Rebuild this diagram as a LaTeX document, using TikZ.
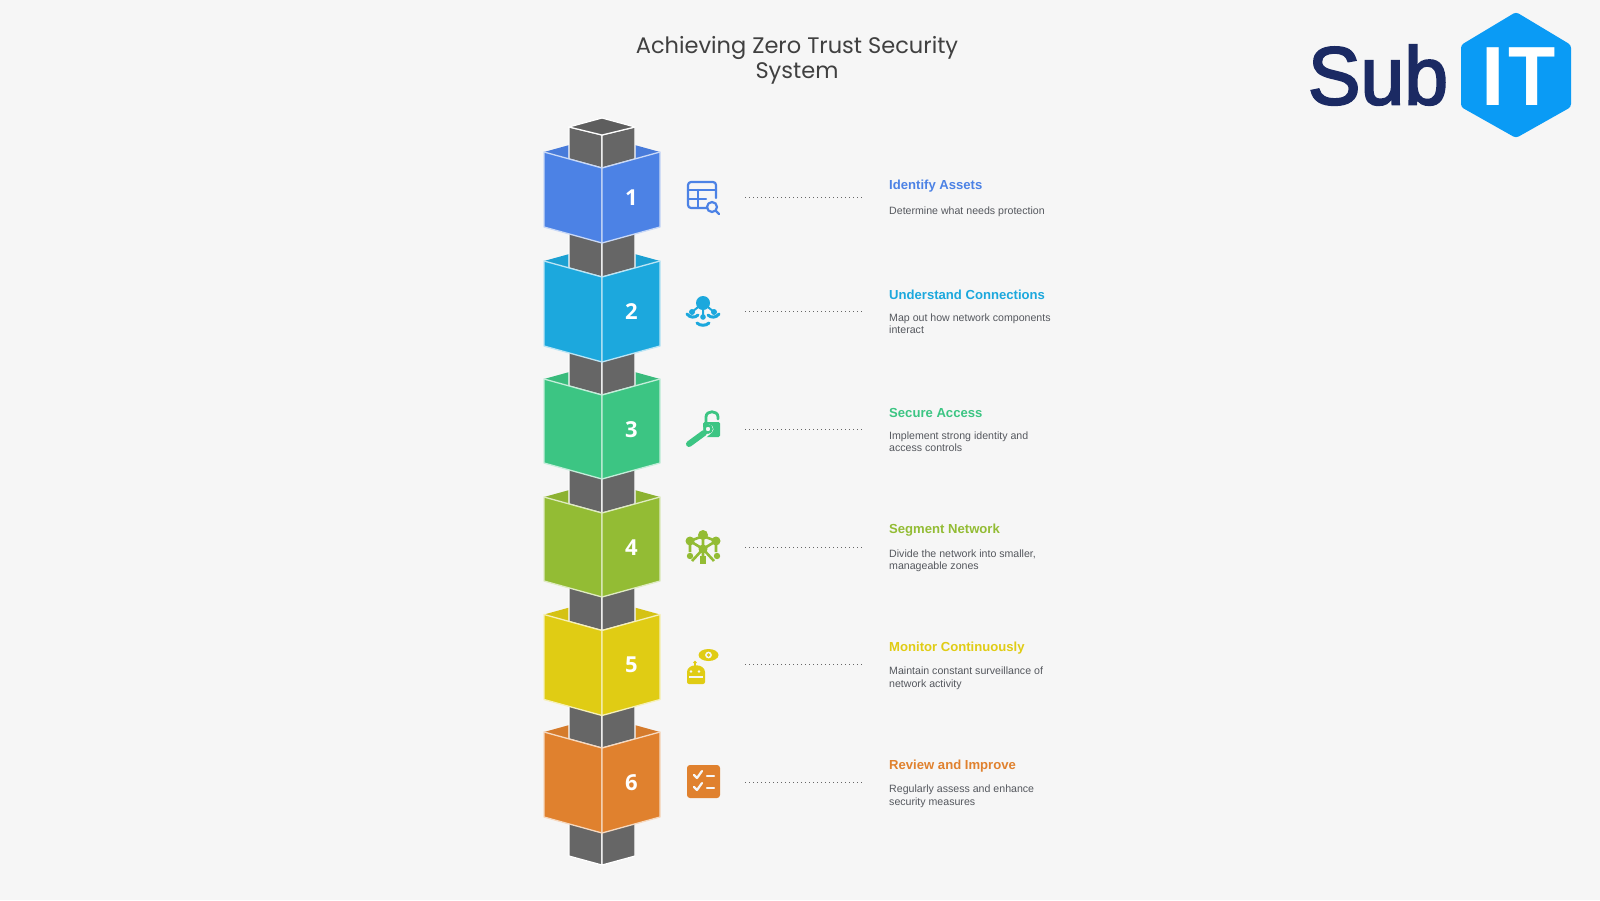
\documentclass[tikz,border=0pt]{standalone}
\usepackage{fontspec}
\usepackage{xcolor}
\setmainfont{Liberation Sans}
\newfontfamily\headfont{Poppins}
\newfontfamily\numfont{Open Sans}
\newfontfamily\logofont[FakeBold=2.6]{Liberation Sans}

\definecolor{pagebg}{HTML}{F6F6F6}
\definecolor{colgrey}{HTML}{666666}
\definecolor{capgrey}{HTML}{5E5E5E}
\definecolor{deskgrey}{HTML}{55585E}
\definecolor{stepa}{HTML}{4C82E5}
\definecolor{stepb}{HTML}{1CA8DD}
\definecolor{stepc}{HTML}{3CC583}
\definecolor{stepd}{HTML}{93BC34}
\definecolor{stepe}{HTML}{E0CC14}
\definecolor{stepf}{HTML}{E0812E}
\definecolor{logoblue}{HTML}{0A9BF5}
\definecolor{logonavy}{HTML}{1B2A63}

\begin{document}
\begin{tikzpicture}[
      x=1pt, y=-1pt,
      greyface/.style={fill=colgrey, draw=white, line width=1.2pt, line join=round},
      numlabel/.style={font=\numfont\bfseries\fontsize{22}{22}\selectfont, text=white},
      titlelabel/.style={font=\bfseries\fontsize{13.1}{16}\selectfont, anchor=west, inner sep=0pt},
      desclabel/.style={font=\fontsize{10.6}{12.5}\selectfont, text=deskgrey, anchor=north west, inner sep=0pt, align=left},
      dotline/.style={colgrey, line width=0.9pt, dash pattern=on 0.9pt off 3.1pt},
      iconline/.style={line width=2.2pt, line cap=round, line join=round}
    ]
    \useasboundingbox (0,0) rectangle (1600,900);
    \fill[pagebg] (0,0) rectangle (1600,900);

    % heading
    \node[font=\headfont\fontsize{22.5}{25}\selectfont, text=black!75, align=center] (heading) at (797,60)
      {Achieving Zero Trust Security\\System};

    % logo
    \node[font=\logofont\fontsize{82}{82}\selectfont, text=logonavy, inner sep=0pt] (sub) at (1378,75)
      {\scalebox{0.96}[1]{Sub}};
    \fill[logoblue, rounded corners=3pt] (1516,12) -- (1571,45) -- (1571,107) -- (1516,138) -- (1461,107) -- (1461,45) -- cycle;
    \node[font=\bfseries\fontsize{84}{84}\selectfont, text=white, inner sep=0pt] (logoit) at (1518.5,77)
      {I\kern3pt\scalebox{0.92}[1]{T}};

    % bottom end of the column
    \draw[greyface] (569,810) -- (569,856) -- (602,865) -- (602,810) -- cycle;
    \draw[greyface] (635,810) -- (635,856) -- (602,865) -- (602,810) -- cycle;

    % blocks, lowest first so each one lies over the column below it
    \foreach \n/\col/\t/\h/\s/\c in {6/stepf/748/85/65/65, 5/stepe/630.5/85/65/65, 4/stepd/513/84/65/65, 3/stepc/395/84/65/65, 2/stepb/277/85/65/65, 1/stepa/168/75/41/33} {
      \fill[\col!95!black] (544,\t-16) -- (602,\t-32) -- (660,\t-16) -- (602,\t) -- cycle;
      \draw[greyface] (569,\t-\s) -- (569,\t-9) -- (602,\t) -- (602,\t-\c) -- cycle;
      \draw[greyface] (635,\t-\s) -- (635,\t-9) -- (602,\t) -- (602,\t-\c) -- cycle;
      \draw[fill=\col, draw=\col!30!white, line width=1.3pt, line join=round]
        (544,\t-16) -- (602,\t) -- (602,\t+\h) -- (544,\t+\h-16) -- cycle;
      \draw[fill=\col, draw=\col!30!white, line width=1.3pt, line join=round]
        (660,\t-16) -- (602,\t) -- (602,\t+\h) -- (660,\t+\h-16) -- cycle;
    }

    % top of the column
    \draw[fill=capgrey, draw=white, line width=1.2pt, line join=round] (602,118) -- (635,127) -- (602,135) -- (569,127) -- cycle;

    % numbers, dotted lines and texts
    \foreach \n/\col/\y/\ttl/\dsc/\dy/\gap in {
        1/stepa/197/Identify Assets/Determine what needs protection/186/20.5,
        2/stepb/311/Understand Connections/{Map out how network components\\interact}/294.5/18.7,
        3/stepc/429/Secure Access/{Implement strong identity and\\access controls}/412.5/18.7,
        4/stepd/547/Segment Network/{Divide the network into smaller,\\manageable zones}/530.5/18.7,
        5/stepe/664.5/Monitor Continuously/{Maintain constant surveillance of\\network activity}/648/18.7,
        6/stepf/782/Review and Improve/{Regularly assess and enhance\\security measures}/766/18.7} {
      \node[numlabel] (num\n) at (631.5,\y+0.5) {\n};
      \coordinate (dota\n) at (745,\y);
      \coordinate (dotb\n) at (862,\y);
      \draw[dotline] (dota\n) -- (dotb\n);
      \node[titlelabel, text=\col] (title\n) at (889,\dy) {\ttl};
      \node[desclabel] (desc\n) at (889,\dy+\gap) {\dsc};
    }

    % icon 1, table with a lens
    \draw[stepa, iconline, rounded corners=3pt] (709,208) -- (688,208) -- (688,182) -- (716,182) -- (716,198);
    \draw[stepa, iconline] (688,190) -- (716,190) (688,199) -- (706,199) (698,190) -- (698,207);
    \draw[stepa, iconline, fill=pagebg] (712,207) circle (5pt);
    \draw[stepa, iconline] (716,211) -- (719,214);

    % icon 2, hub with arms
    \fill[stepb] (703,303) circle (7pt) (703,317) circle (2.8pt);
    \draw[stepb, line width=2pt] (703,303) -- (703,317) (703,303) -- (692,312) (703,303) -- (714,312);
    \fill[stepb] (692,312) circle (3pt) (714,312) circle (3pt);
    \draw[stepb, line width=3pt, line cap=round] (687,314) .. controls (690,318) and (695,318) .. (698,315);
    \draw[stepb, line width=3pt, line cap=round] (708,315) .. controls (711,318) and (716,318) .. (719,314);
    \draw[stepb, line width=3pt, line cap=round] (697,323) .. controls (700,326) and (706,326) .. (709,323);

    % icon 3, wrench and open lock
    \fill[stepc, rounded corners=1.5pt] (703,422) rectangle (720,437);
    \draw[stepc, line width=2.8pt, line cap=round] (706,423) -- (706,417) .. controls (706,410) and (718,410) .. (718,417) -- (718,419);
    \draw[pagebg, line width=9pt, line cap=round] (701,436) -- (709,429);
    \draw[stepc, line width=6pt, line cap=round] (689,444) -- (704,433);
    \draw[stepc, line width=2.4pt, fill=pagebg] (708,429) circle (3.6pt);

    % icon 4, linked spheres
    \draw[stepd, line width=2.6pt] (703,536) -- (690,541) -- (703,549) -- (716,541) -- cycle (703,536) -- (703,563);
    \draw[stepd, line width=2.6pt] (703,549) -- (692,561) (703,549) -- (714,561) (690,541) -- (690,552) (716,541) -- (716,552);
    \fill[stepd] (703,535) circle (5pt) (690,541) circle (4.5pt) (716,541) circle (4.5pt) (703,549) circle (4.5pt);
    \fill[stepd] (690,556) circle (3.2pt) (717,556) circle (3.2pt);
    \fill[stepd] (700,556) rectangle (706,564);

    % icon 5, robot and eye
    \fill[stepe] (708.5,655) ellipse (10pt and 6pt);
    \fill[pagebg] (708.5,655) circle (3.4pt);
    \fill[stepe] (708.5,655) circle (1.8pt);
    \fill[stepe] (695,662.5) circle (1.8pt);
    \draw[stepe, line width=1.2pt] (695,662) -- (695,668);
    \fill[stepe, rounded corners=2pt] (687,684) -- (687,674) .. controls (687,663) and (705,663) .. (705,674) -- (705,684) -- cycle;
    \draw[pagebg, line width=1.5pt] (689,677) -- (703,677);
    \fill[pagebg] (691,671.5) circle (1.3pt) (699,671.5) circle (1.3pt);

    % icon 6, check list
    \fill[stepf, rounded corners=3pt] (687,765) rectangle (720,798);
    \draw[pagebg, line width=2.2pt, line cap=round, line join=round] (694,775) -- (697,778) -- (702,771) (694,787) -- (697,790) -- (702,783);
    \draw[pagebg, line width=2.2pt, line cap=round] (707,776) -- (714,776) (707,788) -- (714,788);
    \end{tikzpicture}
\end{document}
